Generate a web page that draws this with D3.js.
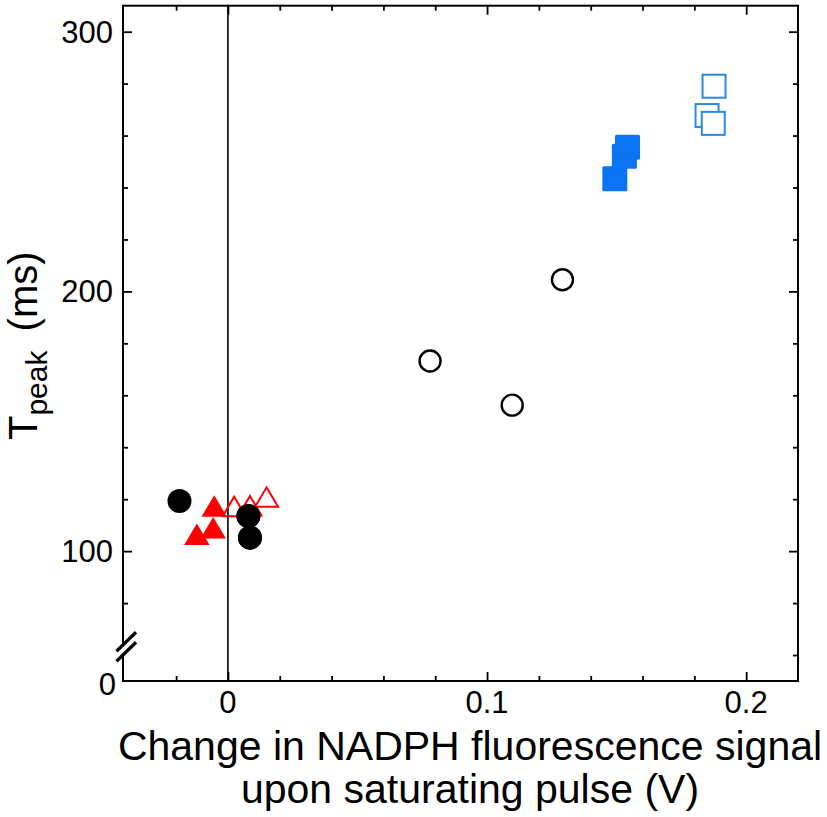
<!DOCTYPE html>
<html><head><meta charset="utf-8">
<script src="https://cdn.jsdelivr.net/npm/d3@7"></script>
<style>body{margin:0;background:#fff}</style>
</head><body>
<svg id="c" width="827" height="817"></svg>
<script>
// ---- data (x: change in NADPH fluorescence signal, V ; y: Tpeak, ms) ----
const filledCircles   = [[-0.0187,119.3],[0.0079,113.5],[0.0085,105.2]];
const openCircles     = [[0.078,173.2],[0.1097,156.2],[0.1291,204.5]];
const filledTriangles = [[-0.0053,117.4],[-0.0057,109.0],[-0.0120,106.5]];
const openTriangles   = [[0.0024,117.2],[0.0085,117.5],[0.0149,120.8]];
const filledSquares   = [[0.1493,243.4],[0.1530,252.0],[0.1542,255.5]];
const openSquares     = [[0.1876,279.0],[0.1849,267.7],[0.1873,264.7]];

const xMajorTicks = [0, 0.1, 0.2];
const xTickLabels = ["0", "0.1", "0.2"];
const xMinorTicks = [-0.02, 0.02, 0.04, 0.06, 0.08, 0.12, 0.14, 0.16, 0.18];
const yMajorTicks = [100, 200, 300];
const yTickLabels = ["100", "200", "300"];
const yMinorTicksLeft  = [80, 120, 140, 160, 180, 220, 240, 260, 280];
const yMinorTicksRight = [60, 80, 120, 140, 160, 180, 220, 240, 260, 280];
const yBreakValue = 50;     // bottom of broken axis, labelled "0"
const yBreakLabel = "0";

// ---- layout ----
const svg = d3.select("#c");
const L = 123, R = 798, T = 5.7, B = 681;
const x = d3.scaleLinear().domain([-0.0405, 0.22]).range([L, R]);
const y = d3.scaleLinear().domain([50, 310]).range([B, T]);
const font = "'Liberation Sans', Arial, Helvetica, sans-serif";
const blue = "#0a74f2", blueOpen = "#2a88e6", red = "#ff0000";

// zero line
svg.append("line").attr("x1", x(0)).attr("x2", x(0)).attr("y1", T).attr("y2", B)
  .attr("stroke", "#000").attr("stroke-width", 1.6);

function styleAxis(g) {
  g.select(".domain").remove();
  g.selectAll(".tick line").attr("stroke", "#000").attr("stroke-width", 1.8);
  g.selectAll("text").remove();
}
// tick marks (inward on all four sides)
svg.append("g").attr("transform", `translate(0,${B})`)
  .call(d3.axisBottom(x).tickValues(xMajorTicks).tickSize(-9)).call(styleAxis);
svg.append("g").attr("transform", `translate(0,${B})`)
  .call(d3.axisBottom(x).tickValues(xMinorTicks).tickSize(-5)).call(styleAxis);
svg.append("g").attr("transform", `translate(0,${T})`)
  .call(d3.axisTop(x).tickValues(xMajorTicks).tickSize(-9)).call(styleAxis);
svg.append("g").attr("transform", `translate(0,${T})`)
  .call(d3.axisTop(x).tickValues(xMinorTicks).tickSize(-5)).call(styleAxis);
svg.append("g").attr("transform", `translate(${L},0)`)
  .call(d3.axisLeft(y).tickValues(yMajorTicks).tickSize(-9)).call(styleAxis);
svg.append("g").attr("transform", `translate(${L},0)`)
  .call(d3.axisLeft(y).tickValues(yMinorTicksLeft).tickSize(-5)).call(styleAxis);
svg.append("g").attr("transform", `translate(${R},0)`)
  .call(d3.axisRight(y).tickValues(yMajorTicks).tickSize(-9)).call(styleAxis);
svg.append("g").attr("transform", `translate(${R},0)`)
  .call(d3.axisRight(y).tickValues(yMinorTicksRight).tickSize(-5)).call(styleAxis);

// tick labels
svg.append("g").selectAll("text").data(xMajorTicks).join("text")
  .attr("x", d => x(d)).attr("y", B + 32).attr("text-anchor", "middle")
  .attr("font-family", font).attr("font-size", 31).attr("fill", "#000")
  .text((d, i) => xTickLabels[i]);
svg.append("g").selectAll("text").data(yMajorTicks).join("text")
  .attr("x", L - 10).attr("y", d => y(d) + 11).attr("text-anchor", "end")
  .attr("font-family", font).attr("font-size", 31).attr("fill", "#000")
  .text((d, i) => yTickLabels[i]);
svg.append("text").attr("x", L - 7).attr("y", y(yBreakValue) + 14).attr("text-anchor", "end")
  .attr("font-family", font).attr("font-size", 31).attr("fill", "#000").text(yBreakLabel);

// frame
svg.append("rect").attr("x", L).attr("y", T).attr("width", R - L).attr("height", B - T)
  .attr("fill", "none").attr("stroke", "#000").attr("stroke-width", 2);

// axis break
const by = (y(60) + y(66)) / 2;
svg.append("path")
  .attr("d", `M${L-7},${by+15} L${L+11},${by-2} L${L+11},${by-12} L${L-7},${by+5} Z`)
  .attr("fill", "#fff");
[0, 1].forEach(k => {
  const oy = k * 10;
  svg.append("line")
    .attr("x1", L - 6.5).attr("y1", by + 14 - oy)
    .attr("x2", L + 13).attr("y2", by - 5 - oy)
    .attr("stroke", "#000").attr("stroke-width", 3.2);
});

// ---- marks ----
const g = svg.append("g");
g.selectAll(".fc").data(filledCircles).join("circle")
  .attr("cx", d => x(d[0])).attr("cy", d => y(d[1])).attr("r", 12).attr("fill", "#000");
g.selectAll(".oc").data(openCircles).join("circle")
  .attr("cx", d => x(d[0])).attr("cy", d => y(d[1])).attr("r", 10.5)
  .attr("fill", "#fff").attr("stroke", "#000").attr("stroke-width", 2.4);

const tri = (w, h) => `M0,${-h/2} L${w/2},${h/2} L${-w/2},${h/2} Z`;
g.selectAll(".ot").data(openTriangles).join("path")
  .attr("transform", d => `translate(${x(d[0])},${y(d[1])})`)
  .attr("d", tri(23, 19.5)).attr("fill", "none").attr("stroke", red).attr("stroke-width", 2);
g.selectAll(".ft").data(filledTriangles).join("path")
  .attr("transform", d => `translate(${x(d[0])},${y(d[1])})`)
  .attr("d", tri(25.5, 21.5)).attr("fill", red);
g.selectAll(".fc2").data(filledCircles.filter(d => d[0] > 0)).join("circle")
  .attr("cx", d => x(d[0])).attr("cy", d => y(d[1])).attr("r", 12).attr("fill", "#000");

g.selectAll(".fs").data(filledSquares).join("rect")
  .attr("x", d => x(d[0]) - 12.5).attr("y", d => y(d[1]) - 12.5)
  .attr("width", 25).attr("height", 25).attr("rx", 1.5).attr("fill", blue);
g.selectAll(".os").data(openSquares).join("rect")
  .attr("x", d => x(d[0]) - 11.5).attr("y", d => y(d[1]) - 11.5)
  .attr("width", 23).attr("height", 23).attr("fill", "#fff")
  .attr("stroke", blueOpen).attr("stroke-width", 2);

// ---- axis titles ----
const xt = svg.append("text").attr("font-family", font).attr("font-size", 41)
  .attr("text-anchor", "middle").attr("fill", "#000");
xt.append("tspan").attr("x", 470).attr("y", 760).text("Change in NADPH fluorescence signal");
xt.append("tspan").attr("x", 470).attr("y", 803).text("upon saturating pulse (V)");

const yt = svg.append("text").attr("font-family", font).attr("font-size", 40)
  .attr("text-anchor", "start").attr("fill", "#000")
  .attr("transform", `translate(37,440) rotate(-90)`);
yt.append("tspan").text("T");
yt.append("tspan").attr("font-size", 30).attr("dy", 10).text("peak");
yt.append("tspan").attr("dy", -10).attr("dx", 8).text(" (ms)");
</script>
</body></html>
